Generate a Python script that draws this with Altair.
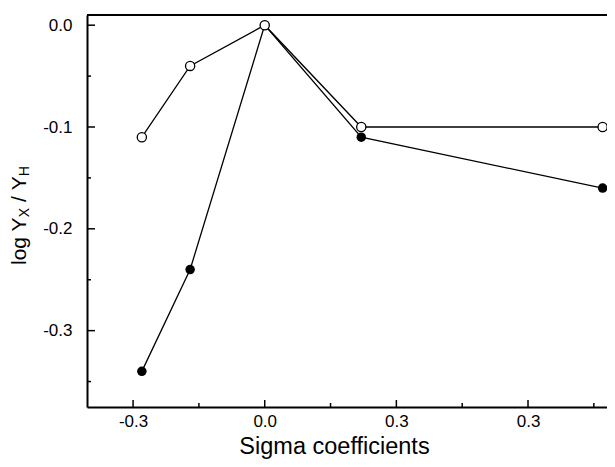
import altair as alt
import pandas as pd

# ---- data ----
sigma = [-0.28, -0.17, 0.0, 0.22, 0.77]
open_vals = [-0.11, -0.04, 0.0, -0.10, -0.10]
filled_vals = [-0.34, -0.24, 0.0, -0.11, -0.16]

xtick_vals = [-0.3, 0.0, 0.3, 0.6]
xtick_labels = ["-0.3", "0.0", "0.3", "0.3"]
xminor_vals = [-0.15, 0.15, 0.45, 0.75]
ytick_vals = [0.0, -0.1, -0.2, -0.3]
ytick_labels = ["0.0", "-0.1", "-0.2", "-0.3"]
yminor_vals = [-0.05, -0.15, -0.25, -0.35]

W, H = 520, 392
FONT = "Liberation Sans"

df = pd.DataFrame({"sigma": sigma, "open": open_vals, "filled": filled_vals})

xscale = alt.Scale(domain=[-0.405, 0.78], nice=False, zero=False)
yscale = alt.Scale(domain=[-0.375, 0.01], nice=False, zero=False)

xlabel_expr = " : ".join(
    [f"abs(datum.value - ({v})) < 1e-6 ? '{l}'" for v, l in zip(xtick_vals, xtick_labels)]
) + " : ''"
ylabel_expr = " : ".join(
    [f"abs(datum.value - ({v})) < 1e-6 ? '{l}'" for v, l in zip(ytick_vals, ytick_labels)]
) + " : ''"

xaxis = alt.Axis(values=xtick_vals, labelExpr=xlabel_expr, ticks=False, tickSize=0,
                 grid=False, domainColor="black", domainWidth=2,
                 labelFont=FONT, labelFontSize=17, labelColor="black", labelPadding=6,
                 title="Sigma coefficients", titleFont=FONT, titleFontSize=23.5,
                 titleFontWeight="normal", titleColor="black", titlePadding=5,
                 titleX=247, titleAlign="center")
yaxis = alt.Axis(values=ytick_vals, labelExpr=ylabel_expr, ticks=False, tickSize=0,
                 grid=False, domainColor="black", domainWidth=2,
                 labelFont=FONT, labelFontSize=17, labelColor="black", labelPadding=15,
                 title=None)

base = alt.Chart(df)

def X(field):
    return alt.X(field, type="quantitative", scale=xscale, axis=xaxis)

def Y(field):
    return alt.Y(field, type="quantitative", scale=yscale, axis=yaxis)

filled_line = base.mark_line(color="black", strokeWidth=1.3).encode(x=X("sigma"), y=Y("filled"))
filled_pts = base.mark_point(filled=True, color="black", size=90, opacity=1).encode(
    x=X("sigma"), y=Y("filled"))
open_line = base.mark_line(color="black", strokeWidth=1.3).encode(x=X("sigma"), y=Y("open"))
open_pts = base.mark_point(filled=True, fill="white", stroke="black", strokeWidth=1.3,
                           size=85, opacity=1).encode(x=X("sigma"), y=Y("open"))

# inward ticks (drawn with the shared scales)
def xticks(vals, length):
    return alt.Chart(pd.DataFrame({"v": vals})).mark_rule(color="black", strokeWidth=1.5).encode(
        x=X("v"), y=alt.value(H), y2=alt.value(H - length),
    )

def yticks(vals, length):
    return alt.Chart(pd.DataFrame({"v": vals})).mark_rule(color="black", strokeWidth=1.5).encode(
        y=Y("v"), x=alt.value(0), x2=alt.value(length),
    )

one = alt.Data(values=[{}])
top_border = alt.Chart(one).mark_rule(color="black", strokeWidth=2).encode(
    x=alt.value(0), x2=alt.value(W), y=alt.value(0)
)

# y title with subscripts: log Y_X / Y_H
def ytxt(text, size, xoff, ypos):
    return alt.Chart(one).mark_text(angle=270, align="left", baseline="alphabetic",
                                    font=FONT, fontSize=size, color="black").encode(
        x=alt.value(xoff), y=alt.value(ypos), text=alt.value(text)
    )

main_fs, sub_fs = 21, 14
y0 = 250
w_logY = 2279 * main_fs / 1000
w_X = 667 * sub_fs / 1000
w_sp = 278 * main_fs / 1000
w_sl = 278 * main_fs / 1000
w_Y = 667 * main_fs / 1000
p1 = y0 - w_logY
p2 = p1 - w_X - w_sp
p3 = p2 - w_sl - w_sp
p4 = p3 - w_Y
title_layers = [
    ytxt("log Y", main_fs, -61, y0),
    ytxt("X", sub_fs, -58, p1),
    ytxt("/", main_fs, -61, p2),
    ytxt("Y", main_fs, -61, p3),
    ytxt("H", sub_fs, -58, p4),
]

chart = alt.layer(
    filled_line, filled_pts, open_line, open_pts,
    xticks(xtick_vals, 7), xticks(xminor_vals, 4),
    yticks(ytick_vals, 8), yticks(yminor_vals, 4),
    top_border, *title_layers,
).properties(
    width=W, height=H,
    padding={"left": 79, "top": 7, "right": 0, "bottom": 52},
    autosize=alt.AutoSizeParams(type="none"),
).configure_view(stroke=None).configure(background="white")

chart.save("out.html", embed_options={"renderer": "svg", "actions": False})
